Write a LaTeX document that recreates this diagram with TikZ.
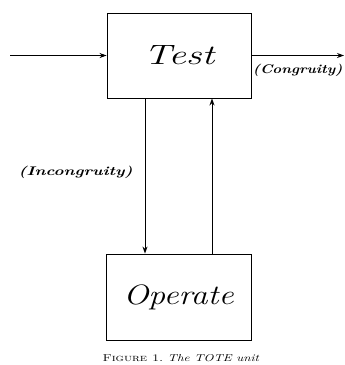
\documentclass[tikz,border=0pt]{standalone}
\usepackage{fontspec}
\usetikzlibrary{arrows.meta}
\newcommand{\widetext}[2]{\scalebox{#1}[1]{#2}}
\tikzset{
  box/.style={draw, line width=0.9pt, rectangle, inner sep=0pt, font=\fontsize{28}{30}\selectfont\itshape},
  flow/.style={line width=0.9pt, -{Stealth[length=7pt,width=5pt]}},
  lbl/.style={font=\fontsize{12.5}{14}\selectfont\bfseries\itshape}
}
\begin{document}
\begin{tikzpicture}[x=1pt, y=-1pt]
    \useasboundingbox (0,0) rectangle (345,365);

    \node[box, minimum width=144pt, minimum height=85pt] at (179,55.5) (test) {\widetext{1.4}{Test}};
    \node[box, minimum width=145pt, minimum height=86pt] at (178.5,297) (operate) {\widetext{1.2}{Operate}};

    \coordinate (in) at (10,55.5);
    \coordinate (out) at (344,55.5);

    \draw[flow] (in) -- (test.west);
    \draw[flow] (test.east) -- (out) node[lbl, pos=0.5, below=5pt] {\widetext{1.2}{(Congruity)}};
    \draw[flow] (test.south -| 145,0) -- (operate.north -| 145,0);
    \draw[flow] (operate.north -| 212,0) -- (test.south -| 212,0);

    \node[lbl, anchor=east] at (136,172) (incong) {\widetext{1.35}{(Incongruity)}};
    \node[font=\fontsize{10}{11}\selectfont] at (181,358) (caption) {\widetext{1.3}{\textsc{Figure 1.}\ \textit{The TOTE unit}}};
  \end{tikzpicture}
\end{document}
